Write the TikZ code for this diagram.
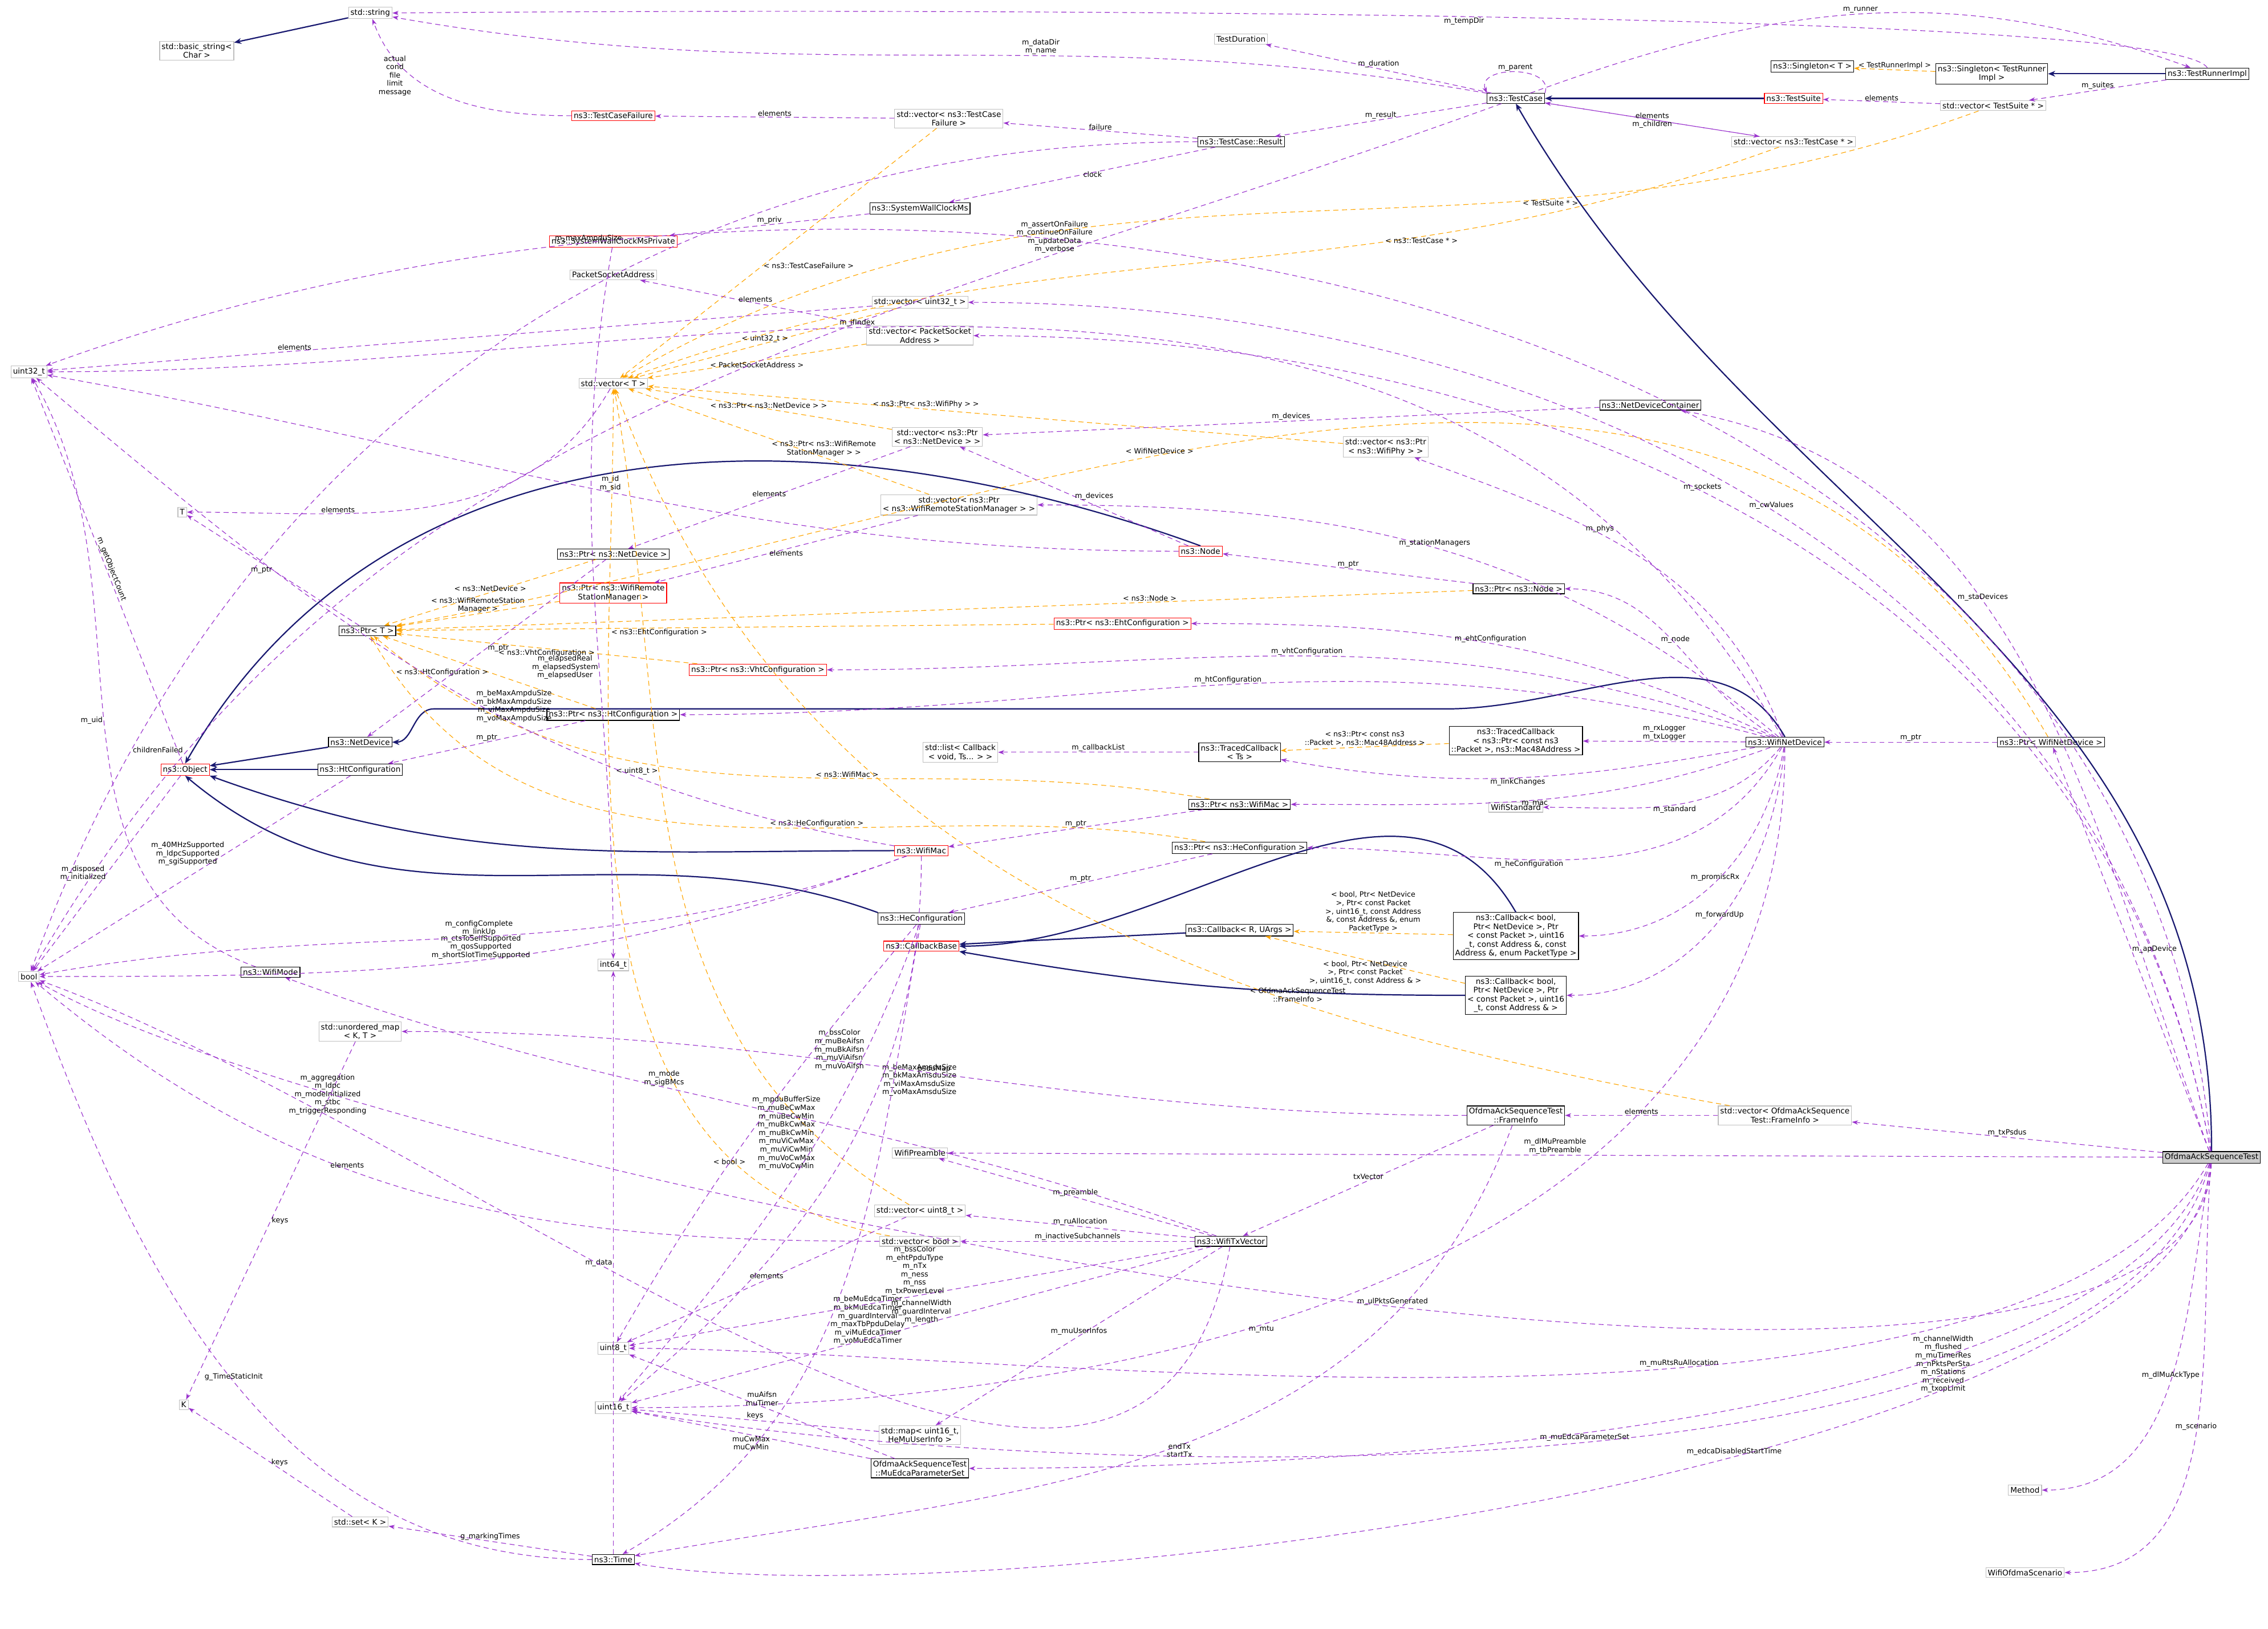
\documentclass[tikz,border=0pt]{standalone}
\usepackage{fontspec}
\setmainfont{DejaVu Sans}
\usetikzlibrary{arrows.meta}
\definecolor{memb}{HTML}{9A32CD}
\definecolor{tmpl}{HTML}{FFA500}
\definecolor{inhc}{HTML}{191970}
\tikzset{
  cls/.style={draw=black, fill=white, inner sep=0.55pt, line width=0.18pt, align=center, font=\fontsize{2.15}{2.45}\selectfont},
  gcls/.style={cls, draw=gray!50},
  rcls/.style={cls, draw=red},
  use/.style={draw=memb, dashed, dash pattern=on 1.4pt off 1pt, line width=0.18pt, -{Stealth[length=1.7pt,width=1.2pt]}},
  inst/.style={draw=tmpl, dashed, dash pattern=on 1.4pt off 1pt, line width=0.18pt, -{Stealth[length=1.7pt,width=1.2pt]}},
  inh/.style={draw=inhc, line width=0.35pt, -{Stealth[length=2pt,width=1.6pt]}},
  lbl/.style={font=\fontsize{2}{2.3}\selectfont, align=center, inner sep=0.2pt}
}
\begin{document}
\begin{tikzpicture}[x=0.4pt,y=-0.4pt]
  \useasboundingbox (0,0) rectangle (1568,1126);
  % classes
  \node[gcls] (u32) at (20,257) {uint32\_t};
  \node[gcls] (bool) at (20,675) {bool};
  \node[gcls] (T) at (126,354) {T};
  \node[gcls] (K) at (127,971) {K};
  \node[gcls] (bstr) at (136,35) {std::basic\_string\textless\\Char \textgreater};
  \node[gcls] (str) at (256,9) {std::string};
  \node[rcls] (tcf) at (424,80) {ns3::TestCaseFailure};
  \node[gcls] (vtcf) at (656,82) {std::vector\textless{} ns3::TestCase\\Failure \textgreater};
  \node[gcls] (tdur) at (858,27) {TestDuration};
  \node[cls] (tc) at (1048,68) {ns3::TestCase};
  \node[cls] (res) at (858,98) {ns3::TestCase::Result};
  \node[cls] (swc) at (636,144) {ns3::SystemWallClockMs};
  \node[rcls] (swcp) at (424,167) {ns3::SystemWallClockMsPrivate};
  \node[gcls] (psa) at (424,190) {PacketSocketAddress};
  \node[gcls] (vu32) at (636,209) {std::vector\textless{} uint32\_t \textgreater};
  \node[gcls] (vpsa) at (636,232) {std::vector\textless{} PacketSocket\\Address \textgreater};
  \node[gcls] (vT) at (424,265) {std::vector\textless{} T \textgreater};
  \node[gcls] (vnd) at (648,302) {std::vector\textless{} ns3::Ptr\\\textless{} ns3::NetDevice \textgreater{} \textgreater};
  \node[gcls] (vphy) at (958,309) {std::vector\textless{} ns3::Ptr\\\textless{} ns3::WifiPhy \textgreater{} \textgreater};
  \node[cls] (ndc) at (1141,280) {ns3::NetDeviceContainer};
  \node[gcls] (vwrsm) at (663,349) {std::vector\textless{} ns3::Ptr\\\textless{} ns3::WifiRemoteStationManager \textgreater{} \textgreater};
  \node[rcls] (node) at (830,381) {ns3::Node};
  \node[cls] (pnode) at (1050,407) {ns3::Ptr\textless{} ns3::Node \textgreater};
  \node[cls] (pnd) at (424,383) {ns3::Ptr\textless{} ns3::NetDevice \textgreater};
  \node[rcls] (pwrsm) at (424,410) {ns3::Ptr\textless{} ns3::WifiRemote\\StationManager \textgreater};
  \node[cls] (pT) at (254,436) {ns3::Ptr\textless{} T \textgreater};
  \node[rcls] (peht) at (776,431) {ns3::Ptr\textless{} ns3::EhtConfiguration \textgreater};
  \node[rcls] (pvht) at (524,463) {ns3::Ptr\textless{} ns3::VhtConfiguration \textgreater};
  \node[cls] (pht) at (424,494) {ns3::Ptr\textless{} ns3::HtConfiguration \textgreater};
  \node[cls] (nd) at (249,513) {ns3::NetDevice};
  \node[cls] (htc) at (249,532) {ns3::HtConfiguration};
  \node[rcls] (obj) at (128,532) {ns3::Object};
  \node[gcls] (lst) at (664,520) {std::list\textless{} Callback\\\textless{} void, Ts... \textgreater{} \textgreater};
  \node[cls] (tcT) at (857,520) {ns3::TracedCallback\\\textless{} Ts \textgreater};
  \node[cls] (tcP) at (1048,512) {ns3::TracedCallback\\\textless{} ns3::Ptr\textless{} const ns3\\::Packet \textgreater, ns3::Mac48Address \textgreater};
  \node[cls] (wnd) at (1234,513) {ns3::WifiNetDevice};
  \node[cls] (pwnd) at (1418,513) {ns3::Ptr\textless{} WifiNetDevice \textgreater};
  \node[cls] (pmac) at (857,556) {ns3::Ptr\textless{} ns3::WifiMac \textgreater};
  \node[rcls] (mac) at (637,588) {ns3::WifiMac};
  \node[cls] (phe) at (857,586) {ns3::Ptr\textless{} ns3::HeConfiguration \textgreater};
  \node[gcls] (wstd) at (1048,558) {WifiStandard};
  \node[cls] (hec) at (637,635) {ns3::HeConfiguration};
  \node[rcls] (cbb) at (637,654) {ns3::CallbackBase};
  \node[cls] (cbR) at (857,643) {ns3::Callback\textless{} R, UArgs \textgreater};
  \node[cls] (cb6) at (1048,647) {ns3::Callback\textless{} bool,\\ Ptr\textless{} NetDevice \textgreater, Ptr\\\textless{} const Packet \textgreater, uint16\\\_t, const Address \&, const\\ Address \&, enum PacketType \textgreater};
  \node[cls] (cb4) at (1048,688) {ns3::Callback\textless{} bool,\\ Ptr\textless{} NetDevice \textgreater, Ptr\\\textless{} const Packet \textgreater, uint16\\\_t, const Address \& \textgreater};
  \node[gcls] (i64) at (424,667) {int64\_t};
  \node[cls] (wmode) at (187,672) {ns3::WifiMode};
  \node[gcls] (umap) at (249,713) {std::unordered\_map\\\textless{} K, T \textgreater};
  \node[cls] (fi) at (1048,771) {OfdmaAckSequenceTest\\::FrameInfo};
  \node[gcls] (vfi) at (1234,771) {std::vector\textless{} OfdmaAckSequence\\Test::FrameInfo \textgreater};
  \node[gcls] (wpre) at (636,797) {WifiPreamble};
  \node[cls, fill=gray!40] (oast) at (1529,800) {OfdmaAckSequenceTest};
  \node[gcls] (vu8) at (636,837) {std::vector\textless{} uint8\_t \textgreater};
  \node[gcls] (vbool) at (636,858) {std::vector\textless{} bool \textgreater};
  \node[cls] (txv) at (851,858) {ns3::WifiTxVector};
  \node[gcls] (u8) at (424,932) {uint8\_t};
  \node[gcls] (u16) at (424,973) {uint16\_t};
  \node[gcls] (hmap) at (636,992) {std::map\textless{} uint16\_t,\\ HeMuUserInfo \textgreater};
  \node[cls] (sgT) at (1253,46) {ns3::Singleton\textless{} T \textgreater};
  \node[cls] (sgR) at (1377,51) {ns3::Singleton\textless{} TestRunner\\Impl \textgreater};
  \node[cls] (tri) at (1526,51) {ns3::TestRunnerImpl};
  \node[rcls] (tsu) at (1240,68) {ns3::TestSuite};
  \node[gcls] (vts) at (1378,73) {std::vector\textless{} TestSuite * \textgreater};
  \node[gcls] (vtc) at (1240,98) {std::vector\textless{} ns3::TestCase * \textgreater};
  \node[gcls] (setK) at (249,1052) {std::set\textless{} K \textgreater};
  \node[cls] (time) at (424,1078) {ns3::Time};
  \node[cls] (mue) at (636,1015) {OfdmaAckSequenceTest\\::MuEdcaParameterSet};
  \node[gcls] (meth) at (1400,1030) {Method};
  \node[gcls] (scen) at (1400,1087) {WifiOfdmaScenario};

  % inheritance
  \draw[inh] (str) -- (bstr);
  \draw[inh] (tri) -- (sgR);
  \draw[inh] (tsu) -- (tc);
  \draw[inh] (oast.north) to[out=90,in=-60] (tc.south);
  \draw[inh] (nd) -- (obj);
  \draw[inh] (htc) -- (obj);
  \draw[inh] (node.north) to[out=160,in=60] (obj.north);
  \draw[inh] (mac.west) to[out=180,in=-20] (obj.south east);
  \draw[inh] (hec.north west) to[out=160,in=-40] (obj.south);
  \draw[inh] (wnd.north) to[out=120,in=0] (1000,490) -- (300,490) to[out=180,in=0] (nd.east);
  \draw[inh] (cbR) -- (cbb);
  \draw[inh] (cb6.north) to[out=120,in=0] (cbb.east);
  \draw[inh] (cb4.west) to[out=180,in=-10] (cbb.south east);

  % templates
  \draw[inst] (sgR) -- node[lbl,above]{\textless{} TestRunnerImpl \textgreater} (sgT);
  \draw[inst] (vtc) to[out=200,in=20] node[lbl,pos=0.3,below]{\textless{} ns3::TestCase * \textgreater} (vT);
  \draw[inst] (vts) to[out=200,in=30] node[lbl,pos=0.3,below]{\textless{} TestSuite * \textgreater} (vT);
  \draw[inst] (vtcf) -- node[lbl,pos=0.55,right]{\textless{} ns3::TestCaseFailure \textgreater} (vT);
  \draw[inst] (vu32) -- node[lbl,pos=0.5,above]{\textless{} uint32\_t \textgreater} (vT);
  \draw[inst] (vpsa) -- node[lbl,pos=0.5,below]{\textless{} PacketSocketAddress \textgreater} (vT);
  \draw[inst] (vnd) -- node[lbl,pos=0.5,above]{\textless{} ns3::Ptr\textless{} ns3::NetDevice \textgreater{} \textgreater} (vT);
  \draw[inst] (vphy) -- node[lbl,pos=0.6,above]{\textless{} ns3::Ptr\textless{} ns3::WifiPhy \textgreater{} \textgreater} (vT);
  \draw[inst] (vwrsm) -- node[lbl,pos=0.35,above]{\textless{} ns3::Ptr\textless{} ns3::WifiRemote\\StationManager \textgreater{} \textgreater} (vT);
  \draw[inst] (vu8) to[out=150,in=-80] node[lbl,pos=0.6,left]{\textless{} uint8\_t \textgreater} (vT);
  \draw[inst] (vbool) to[out=170,in=-90] node[lbl,pos=0.2,below]{\textless{} bool \textgreater} (vT);
  \draw[inst] (vfi) to[out=170,in=-70] node[lbl,pos=0.3,above]{\textless{} OfdmaAckSequenceTest\\::FrameInfo \textgreater} (vT);
  \draw[inst] (pnd) -- node[lbl,above]{\textless{} ns3::NetDevice \textgreater} (pT);
  \draw[inst] (pwrsm) -- node[lbl,above]{\textless{} ns3::WifiRemoteStation\\Manager \textgreater} (pT);
  \draw[inst] (pnode) -- node[lbl,pos=0.3,above]{\textless{} ns3::Node \textgreater} (pT);
  \draw[inst] (peht) -- node[lbl,pos=0.6,below]{\textless{} ns3::EhtConfiguration \textgreater} (pT);
  \draw[inst] (pvht) -- node[lbl,pos=0.5,below]{\textless{} ns3::VhtConfiguration \textgreater} (pT);
  \draw[inst] (pht) -- node[lbl,pos=0.5,left]{\textless{} ns3::HtConfiguration \textgreater} (pT);
  \draw[inst] (pmac) to[out=170,in=-40] node[lbl,pos=0.4,above]{\textless{} ns3::WifiMac \textgreater} (pT);
  \draw[inst] (phe) to[out=170,in=-60] node[lbl,pos=0.4,above]{\textless{} ns3::HeConfiguration \textgreater} (pT);
  \draw[inst] (pwnd) to[out=120,in=10] node[lbl,pos=0.6,above]{\textless{} WifiNetDevice \textgreater} (pT);
  \draw[inst] (tcP) -- node[lbl,above]{\textless{} ns3::Ptr\textless{} const ns3\\::Packet \textgreater, ns3::Mac48Address \textgreater} (tcT);
  \draw[inst] (cb6) -- node[lbl,pos=0.5,above]{\textless{} bool, Ptr\textless{} NetDevice\\ \textgreater, Ptr\textless{} const Packet\\ \textgreater, uint16\_t, const Address\\ \&, const Address \&, enum\\ PacketType \textgreater} (cbR);
  \draw[inst] (cb4) -- node[lbl,pos=0.5,below]{\textless{} bool, Ptr\textless{} NetDevice\\ \textgreater, Ptr\textless{} const Packet\\ \textgreater, uint16\_t, const Address \& \textgreater} (cbR);

  % members
  \draw[use] (tri.north) .. controls (1500,6) and (600,6) .. node[lbl,pos=0.5,below]{m\_tempDir} (str.east);
  \draw[use] (tc) to[out=170,in=-10] node[lbl,pos=0.4,above]{m\_dataDir\\m\_name} (str);
  \draw[use] (tcf) to[out=180,in=-70] node[lbl,pos=0.7,left]{actual\\cond\\file\\limit\\message} (str);
  \draw[use] (vtcf) -- node[lbl,above]{elements} (tcf);
  \draw[use] (res) -- node[lbl,above]{failure} (vtcf);
  \draw[use] (tc) -- node[lbl,above]{m\_result} (res);
  \draw[use] (tc) -- node[lbl,above]{m\_duration} (tdur);
  \draw[use] (tc.north east) .. controls (1075,45) and (1020,45) .. node[lbl,above]{m\_parent} (tc.north west);
  \draw[use] (tc) to[out=20,in=160] node[lbl,above]{m\_runner} (tri);
  \draw[use] (vts) -- node[lbl,above]{elements} (tsu);
  \draw[use] (tri) -- node[lbl,above]{m\_suites} (vts);
  \draw[use] (vtc) -- node[lbl,above]{elements} (tc);
  \draw[use] (tc) -- node[lbl,below]{m\_children} (vtc);
  \draw[use] (res) -- node[lbl,right]{clock} (swc);
  \draw[use] (swc) -- node[lbl,above]{m\_priv} (swcp);
  \draw[use] (swcp) to[out=-100,in=90] node[lbl,pos=0.6,left]{m\_elapsedReal\\m\_elapsedSystem\\m\_elapsedUser} (i64);
  \draw[use] (res) to[out=180,in=70] node[lbl,pos=0.85,right]{childrenFailed} (bool);
  \draw[use] (tc) to[out=200,in=60] node[lbl,pos=0.25,above]{m\_assertOnFailure\\m\_continueOnFailure\\m\_updateData\\m\_verbose} (bool);
  \draw[use] (vu32) -- node[lbl,pos=0.7,above]{elements} (u32);
  \draw[use] (vpsa) -- node[lbl,above]{elements} (psa);
  \draw[use] (vT) to[out=-120,in=0] node[lbl,pos=0.7,above]{elements} (T);
  \draw[use] (oast) to[out=100,in=0] node[lbl,pos=0.5,above]{m\_cwValues} (vu32);
  \draw[use] (oast) to[out=100,in=0] node[lbl,pos=0.55,above]{m\_sockets} (vpsa);
  \draw[use] (oast) to[out=110,in=-10] node[lbl,pos=0.6,above]{m\_staDevices} (ndc);
  \draw[use] (ndc) -- node[lbl,above]{m\_devices} (vnd);
  \draw[use] (vnd) -- node[lbl,above]{elements} (pnd);
  \draw[use] (node) -- node[lbl,right]{m\_devices} (vnd);
  \draw[use] (wnd) to[out=120,in=0] node[lbl,pos=0.6,above]{m\_ifIndex} (u32);
  \draw[use] (wnd) to[out=110,in=-20] node[lbl,pos=0.6,above]{m\_phys} (vphy);
  \draw[use] (wnd) to[out=140,in=0] node[lbl,pos=0.5,above]{m\_stationManagers} (vwrsm);
  \draw[use] (vwrsm) -- node[lbl,below]{elements} (pwrsm);
  \draw[use] (wnd) to[out=150,in=0] node[lbl,pos=0.5,above]{m\_node} (pnode);
  \draw[use] (pnode) -- node[lbl,above]{m\_ptr} (node);
  \draw[use] (wnd) to[out=155,in=0] node[lbl,pos=0.5,above]{m\_ehtConfiguration} (peht);
  \draw[use] (wnd) to[out=160,in=0] node[lbl,pos=0.5,above]{m\_vhtConfiguration} (pvht);
  \draw[use] (wnd) to[out=165,in=0] node[lbl,pos=0.5,above]{m\_htConfiguration} (pht);
  \draw[use] (pht) -- node[lbl,above]{m\_ptr} (htc);
  \draw[use] (pnd) -- node[lbl,right]{m\_ptr} (nd);
  \draw[use] (pT) -- node[lbl,left]{m\_ptr} (T);
  \draw[use] (node) to[out=180,in=-10] node[lbl,pos=0.5,above]{m\_id\\m\_sid} (u32);
  \draw[use] (obj) -- node[lbl,above,sloped]{m\_getObjectCount} (u32);
  \draw[use] (obj) -- node[lbl,left]{m\_disposed\\m\_initialized} (bool);
  \draw[use] (wnd) -- node[lbl,above]{m\_rxLogger\\m\_txLogger} (tcP);
  \draw[use] (wnd) to[out=-170,in=-10] node[lbl,pos=0.5,below]{m\_linkChanges} (tcT);
  \draw[use] (tcT) -- node[lbl,above]{m\_callbackList} (lst);
  \draw[use] (wnd) to[out=-160,in=0] node[lbl,pos=0.5,below]{m\_mac} (pmac);
  \draw[use] (pmac) -- node[lbl,above]{m\_ptr} (mac);
  \draw[use] (wnd) to[out=-130,in=0] node[lbl,pos=0.5,below]{m\_standard} (wstd);
  \draw[use] (wnd) to[out=-120,in=0] node[lbl,pos=0.6,below]{m\_heConfiguration} (phe);
  \draw[use] (phe) -- node[lbl,above]{m\_ptr} (hec);
  \draw[use] (wnd) to[out=-100,in=0] node[lbl,pos=0.5,above]{m\_promiscRx} (cb6);
  \draw[use] (wnd) to[out=-95,in=0] node[lbl,pos=0.5,above]{m\_forwardUp} (cb4);
  \draw[use] (wnd) to[out=-90,in=0] node[lbl,pos=0.6,below]{m\_mtu} (u16);
  \draw[use] (htc) -- node[lbl,pos=0.4,left]{m\_40MHzSupported\\m\_ldpcSupported\\m\_sgiSupported} (bool);
  \draw[use] (mac) to[out=200,in=0] node[lbl,pos=0.5,above]{m\_ctsToSelfSupported\\m\_qosSupported\\m\_shortSlotTimeSupported} (bool);
  \draw[use] (mac) to[out=170,in=-40] node[lbl,pos=0.4,above]{m\_beMaxAmpduSize\\m\_bkMaxAmpduSize\\m\_viMaxAmpduSize\\m\_voMaxAmpduSize} (u32);
  \draw[use] (mac) to[out=-90,in=40] node[lbl,pos=0.35,right]{m\_beMaxAmsduSize\\m\_bkMaxAmsduSize\\m\_viMaxAmsduSize\\m\_voMaxAmsduSize} (u16);
  \draw[use] (mac) to[out=200,in=10] node[lbl,pos=0.5,above]{m\_configComplete\\m\_linkUp} (bool);
  \draw[use] (hec) to[out=-130,in=60] node[lbl,pos=0.3,right]{m\_bssColor\\m\_muBeAifsn\\m\_muBkAifsn\\m\_muViAifsn\\m\_muVoAifsn} (u8);
  \draw[use] (hec) to[out=-110,in=50] node[lbl,pos=0.4,left]{m\_mpduBufferSize\\m\_muBeCwMax\\m\_muBeCwMin\\m\_muBkCwMax\\m\_muBkCwMin\\m\_muViCwMax\\m\_muViCwMin\\m\_muVoCwMax\\m\_muVoCwMin} (u16);
  \draw[use] (hec) to[out=-100,in=30] node[lbl,pos=0.55,right]{m\_beMuEdcaTimer\\m\_bkMuEdcaTimer\\m\_guardInterval\\m\_maxTbPpduDelay\\m\_viMuEdcaTimer\\m\_voMuEdcaTimer} (time);
  \draw[use] (wmode) to[out=160,in=-60] node[lbl,pos=0.5,left]{m\_uid} (u32);
  \draw[use] (time) -- node[lbl,pos=0.5,left]{m\_data} (i64);
  \draw[use] (time) -- node[lbl,above]{g\_markingTimes} (setK);
  \draw[use] (time) to[out=180,in=-70] node[lbl,pos=0.5,above]{g\_TimeStaticInit} (bool);
  \draw[use] (setK) -- node[lbl,right]{keys} (K);
  \draw[use] (umap) -- node[lbl,right]{keys} (K);
  \draw[use] (oast) -- node[lbl,above]{m\_txPsdus} (vfi);
  \draw[use] (vfi) -- node[lbl,above]{elements} (fi);
  \draw[use] (fi) -- node[lbl,above]{txVector} (txv);
  \draw[use] (fi) to[out=-110,in=10] node[lbl,pos=0.5,right]{endTx\\startTx} (time);
  \draw[use] (fi) to[out=180,in=0] node[lbl,pos=0.5,above]{psduMap} (umap);
  \draw[use] (oast) -- node[lbl,above]{m\_dlMuPreamble\\m\_tbPreamble} (wpre);
  \draw[use] (txv) -- node[lbl,above]{m\_preamble} (wpre);
  \draw[use] (txv) -- node[lbl,above]{m\_ruAllocation} (vu8);
  \draw[use] (txv) -- node[lbl,above]{m\_inactiveSubchannels} (vbool);
  \draw[use] (vbool) to[out=180,in=-40] node[lbl,pos=0.6,above]{elements} (bool);
  \draw[use] (vu8) -- node[lbl,above]{elements} (u8);
  \draw[use] (txv) -- node[lbl,above]{m\_bssColor\\m\_ehtPpduType\\m\_nTx\\m\_ness\\m\_nss\\m\_txPowerLevel} (u8);
  \draw[use] (txv) -- node[lbl,above]{m\_channelWidth\\m\_guardInterval\\m\_length} (u16);
  \draw[use] (txv) -- node[lbl,above]{m\_muUserInfos} (hmap);
  \draw[use] (hmap) -- node[lbl,above]{keys} (u16);
  \draw[use] (txv) to[out=160,in=-20] node[lbl,pos=0.6,above]{m\_mode\\m\_sigBMcs} (wmode);
  \draw[use] (txv) to[out=-100,in=-20] node[lbl,pos=0.8,above]{m\_aggregation\\m\_ldpc\\m\_modeInitialized\\m\_stbc\\m\_triggerResponding} (bool);
  \draw[use] (oast) to[out=-120,in=0,looseness=0.6] node[lbl,pos=0.4,above]{m\_muRtsRuAllocation} (u8);
  \draw[use] (oast) to[out=-110,in=0,looseness=0.6] node[lbl,pos=0.55,below]{m\_muEdcaParameterSet} (mue);
  \draw[use] (oast) to[out=-100,in=0] node[lbl,pos=0.5,above]{m\_dlMuAckType} (meth);
  \draw[use] (mue) -- node[lbl,above]{muAifsn\\muTimer} (u8);
  \draw[use] (mue) -- node[lbl,below]{muCwMax\\muCwMin} (u16);
  \draw[use] (oast) to[out=-105,in=-10,looseness=0.6] node[lbl,pos=0.25,left]{m\_channelWidth\\m\_flushed\\m\_muTimerRes\\m\_nPktsPerSta\\m\_nStations\\m\_received\\m\_txopLimit} (u16);
  \draw[use] (oast) to[out=-95,in=0] node[lbl,pos=0.5,above]{m\_scenario} (scen);
  \draw[use] (oast) to[out=-95,in=-10,looseness=0.5] node[lbl,pos=0.4,above]{m\_edcaDisabledStartTime} (time);
  \draw[use] (oast) to[out=-92,in=-30,looseness=0.45] node[lbl,pos=0.45,above]{m\_ulPktsGenerated} (bool);
  \draw[use] (oast) -- node[lbl,right]{m\_apDevice} (pwnd);
  \draw[use] (pwnd) -- node[lbl,above]{m\_ptr} (wnd);
  \draw[use] (oast) to[out=95,in=20] node[lbl,pos=0.8,above]{m\_maxAmpduSize} (u32);
\end{tikzpicture}
\end{document}
